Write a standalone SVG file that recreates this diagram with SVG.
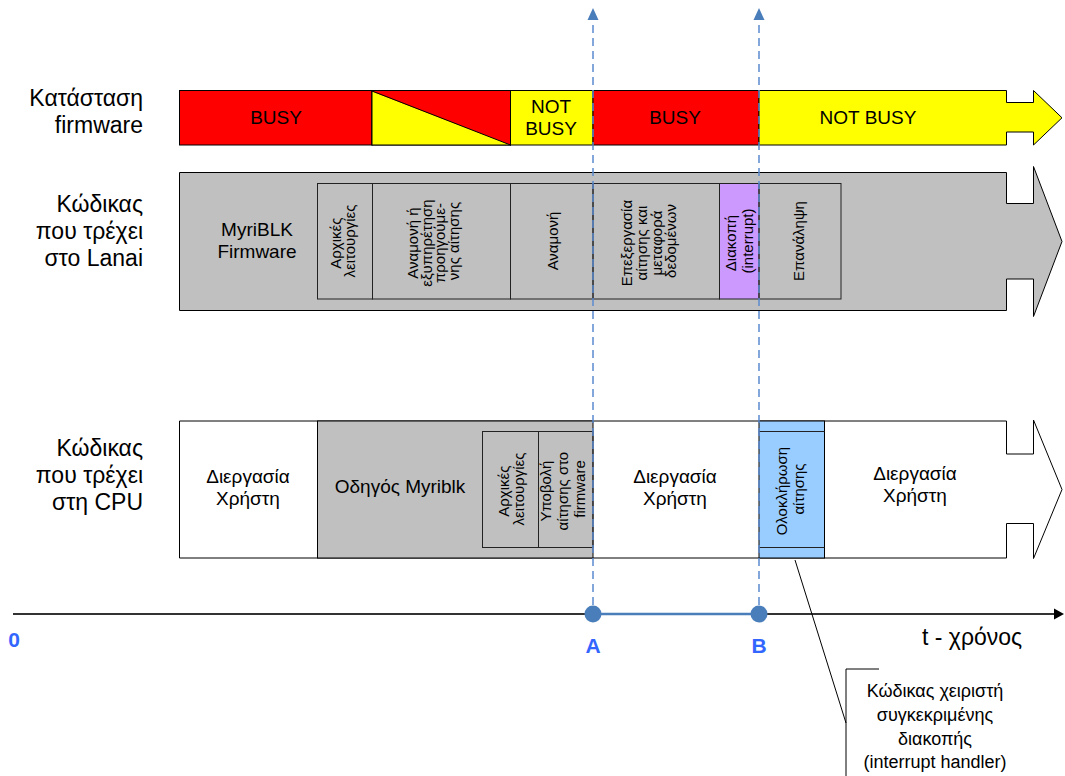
<svg xmlns="http://www.w3.org/2000/svg" width="1065" height="776" viewBox="0 0 1065 776">
  <style>
    text { font-family: "Liberation Sans", Arial, sans-serif; fill: #000; }
    .side { font-size: 23px; text-anchor: end; }
    .seg { font-size: 19px; text-anchor: middle; }
    .rot { font-size: 15px; text-anchor: middle; }
    .note { font-size: 18px; text-anchor: middle; }
    .tick { font-size: 21px; font-weight: bold; fill: #3366FF; text-anchor: middle; }
    .edge { stroke: #000; stroke-width: 1; }
    .cell { fill: none; stroke: #222; stroke-width: 1; }
    .busy { fill: #FF0000; }
    .idle { fill: #FFFF00; }
    .grey { fill: #C0C0C0; }
    .guide { stroke: #5B8BD0; stroke-width: 1.5; stroke-dasharray: 8 5; fill: none; }
    .thin { stroke: #000; stroke-width: 1; fill: none; }
  </style>

  <rect width="1065" height="776" fill="#FFFFFF"/>

  <!-- row labels -->
  <g id="label-firmware-state">
    <text class="side" x="143" y="106">Κατάσταση</text>
    <text class="side" x="143" y="133">firmware</text>
  </g>
  <g id="label-lanai">
    <text class="side" x="143" y="212">Κώδικας</text>
    <text class="side" x="143" y="239">που τρέχει</text>
    <text class="side" x="143" y="266">στο Lanai</text>
  </g>
  <g id="label-cpu">
    <text class="side" x="143" y="456">Κώδικας</text>
    <text class="side" x="143" y="483">που τρέχει</text>
    <text class="side" x="143" y="510">στη CPU</text>
  </g>

  <!-- firmware state bar -->
  <g id="fw-busy-1">
    <rect class="busy edge" x="179.5" y="90.5" width="192.5" height="54.5"/>
    <text class="seg" x="276" y="124">BUSY</text>
  </g>
  <g id="fw-transition">
    <rect class="busy edge" x="372" y="90.5" width="138.5" height="54.5"/>
    <polygon class="idle" points="372,91.5 510.5,145 372,145"/>
    <line class="thin" x1="372" y1="91" x2="510.5" y2="145"/>
    <rect fill="none" class="edge" x="372" y="90.5" width="138.5" height="54.5"/>
  </g>
  <g id="fw-not-busy-1">
    <rect class="idle edge" x="510.5" y="90.5" width="82.5" height="54.5"/>
    <text class="seg" x="551" y="113">NOT</text>
    <text class="seg" x="551" y="135">BUSY</text>
  </g>
  <g id="fw-busy-2">
    <rect class="busy edge" x="593" y="90.5" width="166" height="54.5"/>
    <text class="seg" x="675" y="124">BUSY</text>
  </g>
  <g id="fw-not-busy-2">
    <polygon class="idle edge" points="759,90.5 1006.5,90.5 1006.5,102.5 1033.5,102.5 1033.5,90.5 1062,117.8 1033.5,145 1033.5,132 1006.5,132 1006.5,145 759,145"/>
    <text class="seg" x="868" y="124">NOT BUSY</text>
  </g>

  <!-- code running on the Lanai processor -->
  <g id="lanai-bar">
    <polygon class="grey edge" points="179.5,172.5 1006.5,172.5 1006.5,203.5 1033.5,203.5 1033.5,166.5 1062,241.5 1033.5,316.5 1033.5,279 1006.5,279 1006.5,310.5 179.5,310.5"/>
    <text class="seg" x="257" y="236">MyriBLK</text>
    <text class="seg" x="257" y="258">Firmware</text>
  </g>
  <g id="lanai-init">
    <rect class="cell" x="317.5" y="183.5" width="55" height="115.5"/>
    <text class="rot" transform="translate(0,241) rotate(-90)">
      <tspan x="0" y="341">Αρχικές</tspan>
      <tspan x="0" y="355">λειτουργίες</tspan>
    </text>
  </g>
  <g id="lanai-wait-previous">
    <rect class="cell" x="372.5" y="183.5" width="138" height="115.5"/>
    <text class="rot" transform="translate(0,241) rotate(-90)">
      <tspan x="0" y="417.5">Αναμονή ή</tspan>
      <tspan x="0" y="431.5">εξυπηρέτηση</tspan>
      <tspan x="0" y="445">προηγούμε-</tspan>
      <tspan x="0" y="458.5">νης αίτησης</tspan>
    </text>
  </g>
  <g id="lanai-wait">
    <rect class="cell" x="510.5" y="183.5" width="82.5" height="115.5"/>
    <text class="rot" transform="translate(0,241) rotate(-90)">
      <tspan x="0" y="557.5">Αναμονή</tspan>
    </text>
  </g>
  <g id="lanai-process">
    <rect class="cell" x="593" y="183.5" width="126.5" height="115.5"/>
    <text class="rot" transform="translate(0,241) rotate(-90)">
      <tspan x="0" y="632">Επεξεργασία</tspan>
      <tspan x="0" y="647">αίτησης και</tspan>
      <tspan x="0" y="661.5">μεταφορά</tspan>
      <tspan x="0" y="676">δεδομένων</tspan>
    </text>
  </g>
  <g id="lanai-interrupt">
    <rect class="cell" x="719.5" y="183.5" width="39.5" height="115.5" style="fill:#CC99FF"/>
    <text class="rot" transform="translate(0,241) rotate(-90)">
      <tspan x="0" y="736">Διακοπή</tspan>
      <tspan x="0" y="753">(interrupt)</tspan>
    </text>
  </g>
  <g id="lanai-repeat">
    <rect class="cell" x="759" y="183.5" width="82" height="115.5"/>
    <text class="rot" transform="translate(0,241) rotate(-90)">
      <tspan x="0" y="803.5">Επανάληψη</tspan>
    </text>
  </g>

  <!-- code running on the host CPU -->
  <g id="cpu-bar">
    <polygon fill="#FFFFFF" class="edge" points="179.5,421 1006.5,421 1006.5,454 1033.5,454 1033.5,420 1062,489.5 1033.5,558.5 1033.5,523.5 1006.5,523.5 1006.5,558 179.5,558"/>
  </g>
  <g id="cpu-user-1">
    <text class="seg" x="248" y="483">Διεργασία</text>
    <text class="seg" x="248" y="505">Χρήστη</text>
  </g>
  <g id="cpu-driver">
    <rect class="grey edge" x="317.5" y="421" width="275.5" height="137"/>
    <text class="seg" x="400" y="493">Οδηγός Myriblk</text>
  </g>
  <g id="cpu-driver-init">
    <rect class="cell" x="482.5" y="431.5" width="56" height="116"/>
    <text class="rot" transform="translate(0,489) rotate(-90)">
      <tspan x="0" y="509">Αρχικές</tspan>
      <tspan x="0" y="524">λειτουργίες</tspan>
    </text>
  </g>
  <g id="cpu-driver-submit">
    <rect class="cell" x="538.5" y="431.5" width="54.5" height="116"/>
    <text class="rot" transform="translate(0,489) rotate(-90)">
      <tspan x="0" y="551">Υποβολή</tspan>
      <tspan x="0" y="568">αίτησης στο</tspan>
      <tspan x="0" y="585">firmware</tspan>
    </text>
  </g>
  <g id="cpu-user-2">
    <text class="seg" x="675" y="483">Διεργασία</text>
    <text class="seg" x="675" y="505">Χρήστη</text>
  </g>
  <g id="cpu-completion">
    <rect class="edge" fill="#99CCFF" x="759" y="421" width="65.5" height="137"/>
    <line class="cell" x1="759" y1="431.5" x2="824.5" y2="431.5"/>
    <line class="cell" x1="759" y1="547.5" x2="824.5" y2="547.5"/>
    <text class="rot" transform="translate(0,489) rotate(-90)">
      <tspan x="0" y="787">Ολοκλήρωση</tspan>
      <tspan x="0" y="804">αίτησης</tspan>
    </text>
  </g>
  <g id="cpu-user-3">
    <text class="seg" x="915" y="480">Διεργασία</text>
    <text class="seg" x="915" y="502">Χρήστη</text>
  </g>

  <!-- connectors: time axis, instants A and B, handler callout -->
  <g id="connectors">
    <line x1="13" y1="614" x2="1055" y2="614" stroke="#333" stroke-width="2"/>
    <polygon points="1054,608.5 1064,614 1054,619.5" fill="#000"/>
    <line x1="593" y1="614" x2="759" y2="614" stroke="#4A7EBB" stroke-width="2.5"/>
    <line class="guide" x1="593" y1="605" x2="593" y2="20"/>
    <line class="guide" x1="759" y1="605" x2="759" y2="20"/>
    <polygon points="593,8 587.5,20 598.5,20" fill="#4A7EBB"/>
    <polygon points="759,8 753.5,20 764.5,20" fill="#4A7EBB"/>
    <circle cx="593" cy="614" r="8.5" fill="#4A7EBB"/>
    <circle cx="759" cy="614" r="8.5" fill="#4A7EBB"/>
    <line class="thin" x1="795" y1="560" x2="846" y2="723"/>
    <polyline class="thin" points="879,669 846,669 846,776"/>
  </g>

  <g id="axis-labels">
    <text class="tick" x="14" y="647">0</text>
    <text class="tick" x="593" y="653">A</text>
    <text class="tick" x="759" y="653">B</text>
    <text x="922" y="645" style="font-size:23px">t - χρόνος</text>
  </g>

  <g id="handler-note">
    <text class="note" x="935" y="697">Κώδικας χειριστή</text>
    <text class="note" x="935" y="721">συγκεκριμένης</text>
    <text class="note" x="935" y="745">διακοπής</text>
    <text class="note" x="935" y="768">(interrupt handler)</text>
  </g>
</svg>
